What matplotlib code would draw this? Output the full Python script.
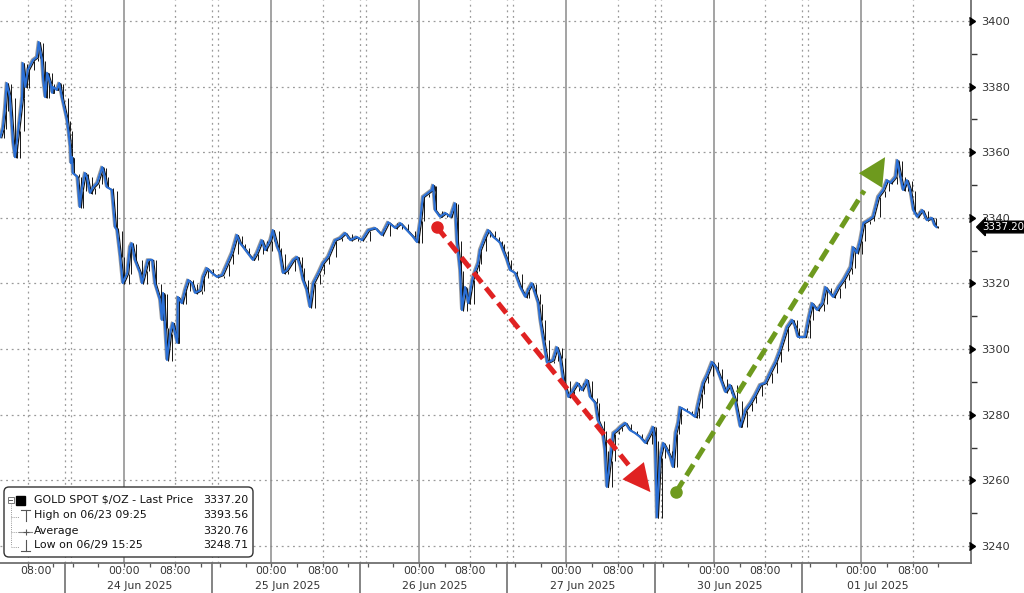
import matplotlib
matplotlib.use("Agg")
import matplotlib.pyplot as plt
import matplotlib.transforms as mtransforms
from matplotlib.patches import FancyBboxPatch, Rectangle
import numpy as np

# ---------------- data (trading hours since 00:00 24 Jun, price) ----------------
hours = [-19.3, -18.9, -18.6, -18.3, -17.8, -17.3, -17.0, -16.5, -15.9, -15.8,
         -15.4, -15.0, -14.2, -13.6, -13.3, -12.8, -12.6, -12.3, -12.0, -11.5,
         -11.2, -11.1, -10.5, -10.1, -9.7, -8.9, -8.7, -8.4, -8.3, -8.1,
         -8.0, -7.3, -6.9, -6.6, -6.1, -5.8, -5.3, -4.8, -4.2, -3.7,
         -3.4, -3.0, -2.7, -1.9, -1.4, -1.1, -0.6, -0.2, 0.5, 0.9,
         1.2, 1.7, 2.5, 2.8, 3.3, 3.7, 4.4, 4.8, 5.6, 5.9,
         6.1, 6.4, 6.7, 7.2, 7.6, 8.3, 8.4, 9.0, 9.5, 10.0,
         10.6, 11.1, 11.9, 12.3, 12.9, 13.7, 14.5, 15.3, 16.1, 16.8,
         17.6, 18.1, 18.6, 19.3, 20.1, 20.7, 21.5, 22.0, 22.8, 23.2,
         23.9, 24.3, 24.8, 25.4, 26.4, 27.0, 27.5, 27.9, 28.5, 29.0,
         29.5, 30.3, 31.0, 31.8, 32.9, 33.7, 34.5, 35.3, 36.3, 37.1,
         38.1, 39.2, 40.2, 41.2, 42.3, 43.1, 44.1, 45.1, 45.7, 46.2,
         46.6, 47.4, 48.0, 48.2, 48.5, 49.3, 50.1, 50.9, 51.6, 51.9,
         52.4, 52.7, 53.2, 53.7, 54.3, 54.8, 55.2, 55.5, 56.3, 56.8,
         57.6, 58.2, 58.7, 59.1, 59.7, 60.2, 61.0, 61.8, 62.6, 63.0,
         63.6, 64.1, 64.6, 64.9, 65.4, 66.0, 66.9, 67.5, 68.0, 68.5,
         69.3, 70.0, 70.7, 71.4, 72.2, 72.7, 73.5, 73.9, 74.6, 75.0,
         75.3, 75.8, 76.3, 76.9, 77.4, 78.2, 78.9, 79.7, 80.5, 81.3,
         82.1, 82.5, 82.8, 83.0, 83.1, 83.6, 84.1, 84.7, 85.2, 85.6,
         86.0, 86.4, 86.7, 87.5, 88.3, 89.1, 89.4, 89.9, 90.3, 90.9,
         91.7, 92.4, 93.0, 93.8, 94.5, 95.3, 96.1, 96.9, 97.7, 98.4,
         99.2, 100.0, 100.8, 101.6, 102.3, 103.4, 104.2, 104.7, 105.1, 106.2,
         106.7, 107.3, 108.1, 108.9, 109.4, 110.1, 110.6, 111.4, 112.2, 112.8,
         113.3, 113.7, 114.3, 114.8, 115.3, 116.1, 116.8, 117.6, 118.4, 119.0,
         119.5, 120.3, 120.6, 121.1, 121.5, 122.1, 122.6, 123.1, 123.7, 124.5,
         125.2, 126.0, 126.4, 126.7]

price = [3364.6, 3367.4, 3372.9, 3381.1, 3376.8, 3362.8, 3358.5, 3366.8, 3376.8, 3387.2,
         3379.9, 3385.1, 3388.1, 3389.0, 3393.6, 3388.1, 3382.0, 3376.8, 3384.2, 3381.1,
         3378.1, 3379.9, 3379.0, 3381.1, 3376.8, 3369.8, 3366.8, 3361.6, 3356.7, 3358.5,
         3353.7, 3352.5, 3343.3, 3348.5, 3353.7, 3352.5, 3347.6, 3349.4, 3350.6, 3353.7,
         3355.5, 3352.5, 3349.4, 3348.5, 3337.2, 3336.3, 3328.1, 3320.1, 3323.2, 3331.1,
         3332.3, 3327.2, 3323.2, 3320.1, 3324.1, 3327.2, 3327.2, 3320.1, 3315.0, 3308.9,
         3317.1, 3306.7, 3296.7, 3304.9, 3308.0, 3301.9, 3315.9, 3314.0, 3318.0, 3321.1,
         3320.1, 3317.1, 3318.0, 3322.0, 3324.7, 3323.2, 3322.0, 3322.6, 3326.2, 3329.3,
         3334.8, 3332.3, 3331.1, 3329.3, 3327.2, 3329.3, 3333.2, 3330.2, 3333.2, 3336.3,
         3331.1, 3329.3, 3323.2, 3324.1, 3327.2, 3328.1, 3325.0, 3321.1, 3318.0, 3312.8,
         3320.1, 3323.2, 3326.2, 3328.1, 3333.2, 3333.9, 3335.4, 3333.2, 3334.2, 3333.2,
         3336.3, 3336.9, 3334.8, 3338.7, 3336.9, 3338.4, 3336.3, 3334.2, 3332.6, 3339.3,
         3346.4, 3347.6, 3348.5, 3350.0, 3342.4, 3340.3, 3341.5, 3340.3, 3344.5, 3333.2,
         3324.1, 3311.9, 3318.9, 3314.0, 3321.1, 3324.1, 3326.2, 3330.2, 3334.2, 3336.3,
         3334.2, 3333.2, 3332.3, 3330.2, 3327.2, 3324.1, 3323.2, 3318.9, 3315.9, 3318.0,
         3320.1, 3317.1, 3314.0, 3308.9, 3302.8, 3295.8, 3296.7, 3300.6, 3297.6, 3290.6,
         3285.4, 3287.5, 3289.7, 3287.5, 3290.6, 3285.4, 3283.6, 3278.4, 3275.3, 3269.2,
         3258.0, 3266.2, 3274.4, 3275.3, 3276.3, 3277.5, 3275.3, 3274.4, 3273.2, 3271.4,
         3274.4, 3276.3, 3272.3, 3258.0, 3248.7, 3267.1, 3271.4, 3269.2, 3267.1, 3264.1,
         3274.4, 3277.5, 3282.3, 3281.4, 3280.5, 3279.3, 3282.3, 3286.6, 3289.7, 3292.1,
         3296.1, 3294.2, 3291.2, 3286.9, 3289.1, 3284.5, 3276.3, 3281.4, 3283.6, 3286.0,
         3289.1, 3289.7, 3293.0, 3296.1, 3299.7, 3306.7, 3308.9, 3306.7, 3303.7, 3303.7,
         3308.9, 3314.0, 3311.9, 3314.0, 3318.9, 3317.1, 3315.9, 3318.9, 3321.1, 3323.2,
         3325.0, 3331.1, 3329.3, 3333.2, 3338.4, 3339.3, 3340.3, 3346.4, 3348.5, 3351.5,
         3350.6, 3352.5, 3357.6, 3352.5, 3348.5, 3351.5, 3348.5, 3342.4, 3340.3, 3342.4,
         3339.3, 3340.0, 3337.8, 3337.2]

series_name = "GOLD SPOT $/OZ - Last Price"
last_price = 3337.20
high_label, high_value = "High on 06/23 09:25", 3393.56
avg_label, avg_value = "Average", 3320.76
low_label, low_value = "Low on 06/29 15:25", 3248.71

day_labels = ["24 Jun 2025", "25 Jun 2025", "26 Jun 2025",
              "27 Jun 2025", "30 Jun 2025", "01 Jul 2025"]
session_hours = 23          # each trading session (gaps removed)
y_ticks = [3240, 3260, 3280, 3300, 3320, 3340, 3360, 3380, 3400]

red_arrow = ((48.8, 3337.2), (82.1, 3256.4))
green_arrow = ((86.1, 3256.4), (118.7, 3358.5))

# ---------------- figure ----------------
W, H = 1024, 593
fig = plt.figure(figsize=(W / 100, H / 100), dpi=100)
ax = fig.add_axes([0, 30 / H, 971 / W, 563 / H])
ax.set_xlim(-19.34, 132.1)
ax.set_ylim(3234.8, 3406.4)

txt = "#333333"
grid_c = "#9a9a9a"
blend = mtransforms.blended_transform_factory(ax.transData, ax.transAxes)
blend_y = mtransforms.blended_transform_factory(ax.transAxes, ax.transData)

day_zero = [session_hours * i for i in range(len(day_labels))]
session_break = [d - 9.2 for d in day_zero]
all_days = [day_zero[0] - session_hours] + day_zero

# horizontal grid
for t in y_ticks:
    ax.axhline(t, color=grid_c, lw=0.9, ls=(0, (1.5, 3)), zorder=1)
# vertical grid
for d in day_zero:
    ax.axvline(d, color="#8a8a8a", lw=1.1, zorder=1)
for d in all_days:
    ax.axvline(d + 8, color=grid_c, lw=0.9, ls=(0, (1.5, 3)), zorder=1)
for b in session_break:
    ax.axvline(b, color=grid_c, lw=0.9, ls=(0, (1.5, 3)), zorder=1)
    ax.axvline(b + 0.9, color=grid_c, lw=0.9, ls=(0, (1.5, 3)), zorder=1)

# price: dark candle-outline trace under the blue close line
h = np.array(hours)
p = np.array(price)
prev = np.r_[p[0], p[:-1]]
off1 = mtransforms.offset_copy(ax.transData, fig=fig, x=1.5, y=-0.6, units="dots")
off2 = mtransforms.offset_copy(ax.transData, fig=fig, x=-1.2, y=0.8, units="dots")
ax.plot(h, p, color="#9a9a9a", lw=1.0, zorder=2, transform=off2)
ax.plot(h, p, color="#151515", lw=0.9, zorder=2, transform=off1)
ax.vlines(h, np.minimum(p, prev), np.maximum(p, prev),
          color="#151515", lw=0.7, zorder=2, transform=off1)
ax.plot(h, p, color="#2a6fd6", lw=1.5, zorder=3, solid_joinstyle="round")

# arrows
for (s, e), col in [(red_arrow, "#e02222"), (green_arrow, "#6e9a1e")]:
    sx, sy = s
    ex, ey = e
    fx = sx + (ex - sx) * 0.9
    fy = sy + (ey - sy) * 0.9
    ax.plot([sx, fx], [sy, fy], color=col, lw=3.6, dashes=(2.6, 1.3),
            solid_capstyle="butt", zorder=5)
    ax.plot([sx], [sy], "o", color=col, ms=8, zorder=6)
    ax.annotate("", xy=(ex, ey), xytext=(sx + (ex - sx) * 0.85, sy + (ey - sy) * 0.85),
                arrowprops=dict(arrowstyle="-|>,head_length=0.9,head_width=0.45",
                                color=col, lw=0, mutation_scale=22,
                                shrinkA=0, shrinkB=0), zorder=6)

# spines / ticks
for sname in ["top", "left"]:
    ax.spines[sname].set_visible(False)
ax.spines["right"].set_color("#707070")
ax.spines["right"].set_linewidth(1.3)
ax.spines["bottom"].set_color("#707070")
ax.spines["bottom"].set_linewidth(1.3)

ax.yaxis.tick_right()
ax.set_yticks(y_ticks)
ax.set_yticklabels([str(t) for t in y_ticks], color=txt, fontsize=8.2)
ax.set_yticks([t + 10 for t in y_ticks[:-1]], minor=True)
ax.tick_params(axis="y", which="major", length=0, pad=7)
ax.tick_params(axis="y", which="minor", length=4, width=1, color="#333333",
               direction="out")
ax.plot([1.004] * len(y_ticks), y_ticks, marker=5, ls="none", color="black",
        ms=5.5, transform=blend_y, clip_on=False, zorder=7)

# x ticks: minor marks every 4 hours
ax.set_xticks([])
minor_x = [d + k * 4 for d in all_days for k in range(-2, 4)]
ax.set_xticks([m for m in minor_x if -19 < m < 132], minor=True)
ax.tick_params(axis="x", which="minor", length=3, width=0.9, color="#555555",
               direction="out")

for d in all_days:
    if d >= 0:
        ax.text(d, -0.0145, "00:00", transform=blend, ha="center", va="center",
                fontsize=7.8, color=txt)
    ax.text(d + 8 + (1.3 if d < 0 else 0), -0.0145, "08:00", transform=blend,
            ha="center", va="center", fontsize=7.8, color=txt)
for d, lab in zip(day_zero, day_labels):
    ax.text(d + 2.5, -0.041, lab, transform=blend, ha="center", va="center",
            fontsize=7.8, color=txt)
for b in session_break:
    ax.plot([b, b], [0, -0.06], transform=blend, color="#707070", lw=1.2,
            clip_on=False)

# last price tag
ax.text(1.012, last_price, f"{last_price:.2f}", transform=blend_y, color="white",
        fontsize=7.4, va="center", ha="left", zorder=8,
        bbox=dict(boxstyle="larrow,pad=0.08", fc="black", ec="black"))

# ---------------- legend box ----------------
lax = fig.add_axes([3 / W, 35 / H, 251 / W, 72 / H])
lax.set_xlim(0, 251)
lax.set_ylim(0, 72)
lax.axis("off")
lax.add_patch(FancyBboxPatch((1, 1), 249, 70,
                             boxstyle="round,pad=0,rounding_size=5",
                             fc="white", ec="#333333", lw=1))
rows_y = [58, 42.5, 27.5, 13]
lfs = 7.9
# tree
lax.add_patch(Rectangle((4.5, 55), 6, 6, fc="white", ec="#777777", lw=0.7))
lax.plot([5.8, 9.2], [58, 58], color="#555555", lw=0.7)
lax.plot([7.5, 7.5], [55, 12], color="#999999", lw=0.7, ls=(0, (1, 1.2)))
for y in rows_y[1:]:
    lax.plot([7.5, 16], [y - 1.5, y - 1.5], color="#999999", lw=0.7,
             ls=(0, (1, 1.2)))
lax.add_patch(Rectangle((12.5, 53.5), 9, 9, fc="black", ec="black"))
# high icon
lax.plot([18, 27], [48, 48], color="#555555", lw=0.8)
lax.plot([22.5, 22.5], [48, 37], color="#555555", lw=0.8)
# avg icon
lax.plot([16, 29], [26, 26], color="#888888", lw=0.8)
lax.plot([22.5], [26], marker="+", color="#555555", ms=5, mew=0.8)
# low icon
lax.plot([18, 27], [7.5, 7.5], color="#555555", lw=0.8)
lax.plot([22.5, 22.5], [7.5, 18.5], color="#555555", lw=0.8)

labels = [series_name, high_label, avg_label, low_label]
values = [last_price, high_value, avg_value, low_value]
for y, lab, val in zip(rows_y, labels, values):
    lax.text(31, y, lab, fontsize=lfs, color="#111111", va="center", ha="left")
    lax.text(245, y, f"{val:.2f}", fontsize=lfs, color="#111111", va="center",
             ha="right")

fig.savefig("out.png", dpi=100)
